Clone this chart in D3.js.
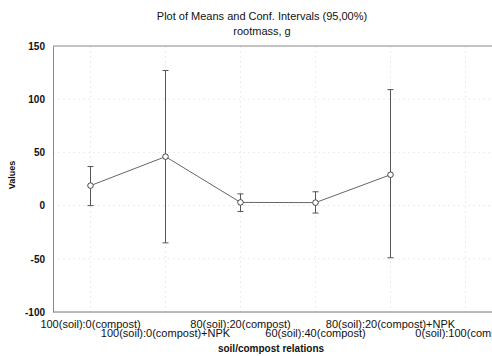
<!DOCTYPE html>
<html>
<head>
<meta charset="utf-8">
<script src="https://cdn.jsdelivr.net/npm/d3@7"></script>
<style>
  body { margin: 0; background: #fff; }
  svg { font-family: "Liberation Sans", Arial, sans-serif; }
</style>
</head>
<body>
<div id="chart"></div>
<script>
// categories and values
var categories = ["100(soil):0(compost)", "100(soil):0(compost)+NPK", "80(soil):20(compost)",
                  "60(soil):40(compost)", "80(soil):20(compost)+NPK", "0(soil):100(compost)"];
var means = [18.8, 46, 3, 2.8, 29];
var upper = [36.7, 127, 11, 13, 109];
var lower = [0, -35, -5.5, -7, -49];
var yTicks = [150, 100, 50, 0, -50, -100];

var margin = {top: 46, right: -11, bottom: 44, left: 53},
    W = 492, H = 356,
    width = W - margin.left - margin.right,
    height = H - margin.top - margin.bottom;

var svg = d3.select("#chart").append("svg")
    .attr("width", W).attr("height", H);

var g = svg.append("g")
    .attr("transform", "translate(" + margin.left + "," + margin.top + ")");

var x = d3.scalePoint().domain(categories).range([0, width]).padding(0.5);
var y = d3.scaleLinear().domain([-100, 150]).range([height, 0]);

// faint grid
g.selectAll(".vgrid").data(categories).enter().append("line")
    .attr("x1", d => x(d)).attr("x2", d => x(d))
    .attr("y1", 0).attr("y2", height)
    .attr("stroke", "#ececec").attr("stroke-dasharray", "2,3");
g.selectAll(".hgrid").data(yTicks.slice(1, -1)).enter().append("line")
    .attr("x1", 0).attr("x2", width)
    .attr("y1", d => y(d)).attr("y2", d => y(d))
    .attr("stroke", "#ececec").attr("stroke-dasharray", "2,3");

// frame
g.append("line").attr("x1", 0).attr("x2", width).attr("y1", 0).attr("y2", 0)
    .attr("stroke", "#888");
g.append("line").attr("x1", 0).attr("x2", width).attr("y1", height).attr("y2", height)
    .attr("stroke", "#777");

// Y axis
var yAxis = g.append("g")
    .call(d3.axisLeft(y).tickValues(yTicks).tickSize(0).tickPadding(8)
        .tickFormat(d => String(d)));
yAxis.select(".domain").attr("stroke", "#888");
yAxis.selectAll("text")
    .style("font-size", "10px").style("font-weight", "bold").attr("fill", "#111");

// X axis labels, staggered in two rows
g.selectAll(".xlab").data(categories).enter().append("text")
    .attr("x", d => x(d))
    .attr("y", (d, i) => height + (i % 2 === 0 ? 16 : 25))
    .attr("text-anchor", "middle")
    .style("font-size", "11px")
    .attr("fill", "#111")
    .text(d => d);

// line between means
var pts = means.map((m, i) => ({cat: categories[i], m: m, hi: upper[i], lo: lower[i]}));
g.append("path")
    .datum(pts)
    .attr("fill", "none")
    .attr("stroke", "#666")
    .attr("stroke-width", 1)
    .attr("d", d3.line().x(d => x(d.cat)).y(d => y(d.m)));

// error bars
var eb = g.selectAll(".eb").data(pts).enter().append("g");
eb.append("line")
    .attr("x1", d => x(d.cat)).attr("x2", d => x(d.cat))
    .attr("y1", d => y(d.hi)).attr("y2", d => y(d.lo))
    .attr("stroke", "#555");
eb.append("line")
    .attr("x1", d => x(d.cat) - 3).attr("x2", d => x(d.cat) + 3)
    .attr("y1", d => y(d.hi)).attr("y2", d => y(d.hi))
    .attr("stroke", "#555");
eb.append("line")
    .attr("x1", d => x(d.cat) - 3).attr("x2", d => x(d.cat) + 3)
    .attr("y1", d => y(d.lo)).attr("y2", d => y(d.lo))
    .attr("stroke", "#555");
eb.append("circle")
    .attr("cx", d => x(d.cat)).attr("cy", d => y(d.m))
    .attr("r", 2.8)
    .attr("fill", "#fff").attr("stroke", "#444");

// titles
svg.append("text").attr("x", 262).attr("y", 20).attr("text-anchor", "middle")
    .style("font-size", "11px").attr("fill", "#111")
    .text("Plot of Means and Conf. Intervals (95,00%)");
svg.append("text").attr("x", 262).attr("y", 35).attr("text-anchor", "middle")
    .style("font-size", "11px").attr("fill", "#111")
    .text("rootmass, g");
svg.append("text")
    .attr("transform", "translate(15,175) rotate(-90)")
    .attr("text-anchor", "middle")
    .style("font-size", "9px").style("font-weight", "bold").attr("fill", "#111")
    .text("Values");
svg.append("text").attr("x", 271).attr("y", 352).attr("text-anchor", "middle")
    .style("font-size", "10px").style("font-weight", "bold").attr("fill", "#111")
    .text("soil/compost relations");
</script>
</body>
</html>
